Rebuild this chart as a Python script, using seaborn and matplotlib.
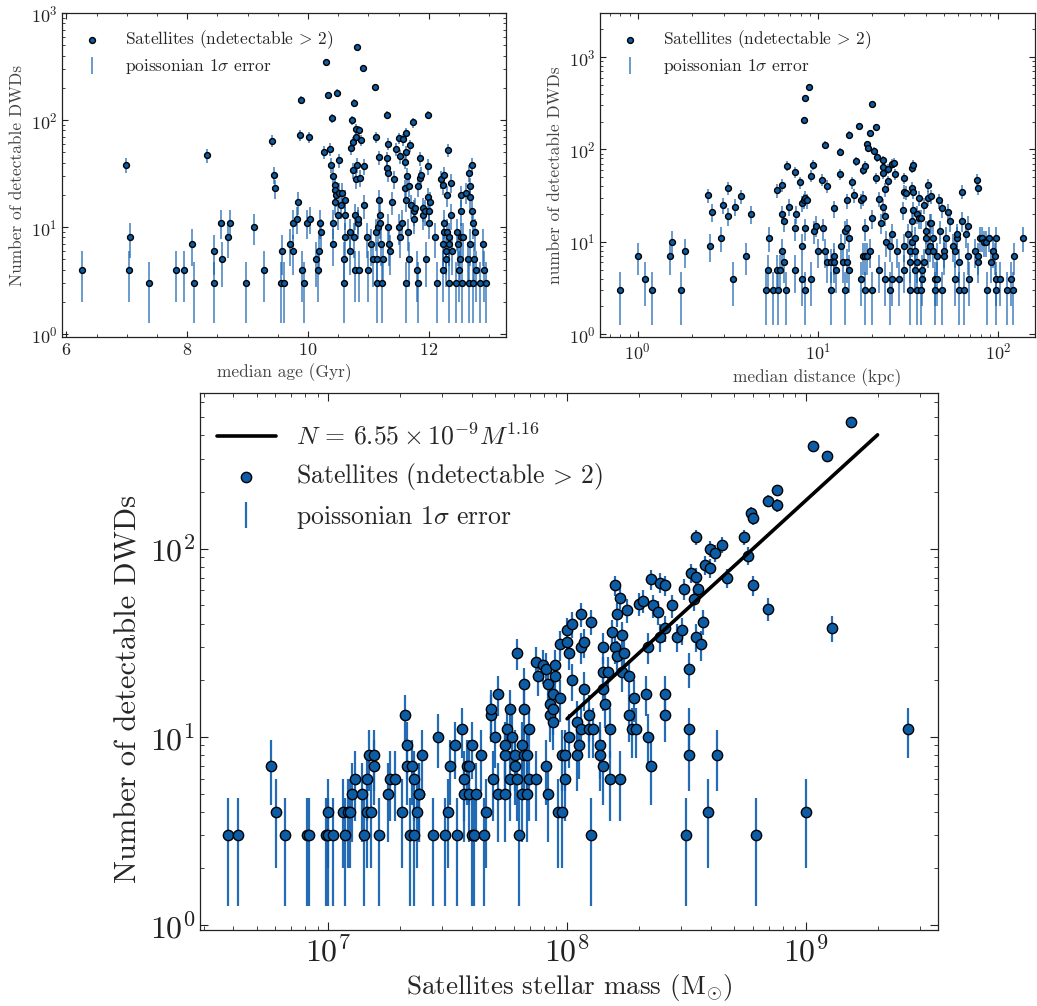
import numpy as np
import pandas as pd
import seaborn as sns
import matplotlib
matplotlib.use("Agg")
import matplotlib.pyplot as plt
from matplotlib.ticker import MultipleLocator, LogLocator, NullFormatter

# ---------------------------------------------------------------------------
# Satellite galaxies: number of detectable DWDs vs. median age (Gyr)
# ---------------------------------------------------------------------------
age_gyr = [6.25, 6.99, 7.05, 7.04, 7.36, 7.82, 7.94, 8.08, 8.11, 8.33, 8.44, 8.44,
           8.56, 8.58, 8.67, 8.71, 8.98, 9.11, 9.27, 9.40, 9.43, 9.46, 9.55, 9.57,
           9.61, 9.70, 9.75, 9.76, 9.82, 9.83, 9.86, 9.88, 9.90, 9.93, 9.99, 10.01,
           10.04, 10.14, 10.16, 10.18, 10.20, 10.21, 10.26, 10.30, 10.33, 10.36, 10.38, 10.40,
           10.41, 10.42, 10.42, 10.44, 10.44, 10.45, 10.46, 10.48, 10.49, 10.51, 10.52, 10.55,
           10.56, 10.59, 10.59, 10.61, 10.62, 10.62, 10.69, 10.70, 10.72, 10.73, 10.74, 10.75,
           10.77, 10.77, 10.78, 10.78, 10.79, 10.79, 10.80, 10.81, 10.81, 10.82, 10.83, 10.84,
           10.85, 10.86, 10.88, 10.91, 10.92, 10.93, 10.97, 10.99, 11.05, 11.07, 11.11, 11.12,
           11.12, 11.14, 11.15, 11.16, 11.18, 11.18, 11.19, 11.20, 11.21, 11.23, 11.25, 11.31,
           11.31, 11.31, 11.32, 11.32, 11.33, 11.34, 11.36, 11.39, 11.43, 11.46, 11.50, 11.51,
           11.52, 11.53, 11.55, 11.58, 11.60, 11.61, 11.62, 11.62, 11.62, 11.63, 11.64, 11.66,
           11.67, 11.68, 11.69, 11.71, 11.74, 11.75, 11.76, 11.77, 11.80, 11.82, 11.83, 11.85,
           11.86, 11.87, 11.90, 11.91, 11.93, 11.96, 11.98, 11.99, 11.99, 12.01, 12.01, 12.02,
           12.10, 12.14, 12.20, 12.23, 12.24, 12.24, 12.25, 12.25, 12.26, 12.28, 12.29, 12.30,
           12.31, 12.32, 12.33, 12.33, 12.34, 12.37, 12.37, 12.39, 12.45, 12.46, 12.48, 12.50,
           12.52, 12.53, 12.54, 12.54, 12.55, 12.56, 12.61, 12.65, 12.66, 12.67, 12.68, 12.69,
           12.69, 12.71, 12.72, 12.73, 12.74, 12.75, 12.77, 12.79, 12.85, 12.90, 12.91, 12.94]
n_by_age = [4, 38, 8, 4, 3, 4, 4, 7, 3, 47, 6, 3,
            11, 5, 8, 11, 3, 10, 4, 64, 31, 23, 3, 6,
            3, 7, 11, 6, 12, 17, 72, 155, 4, 3, 11, 69,
            12, 5, 4, 6, 11, 9, 50, 350, 170, 54, 38, 105,
            30, 11, 7, 25, 22, 17, 20, 180, 13, 21, 42, 16,
            21, 5, 3, 18, 8, 13, 9, 6, 55, 100, 62, 34,
            145, 8, 13, 4, 70, 28, 83, 38, 480, 11, 12, 4,
            80, 29, 65, 310, 37, 16, 8, 4, 7, 5, 205, 69,
            9, 3, 5, 10, 18, 45, 13, 11, 7, 3, 5, 112,
            44, 36, 10, 60, 32, 7, 6, 17, 28, 54, 68, 10,
            46, 8, 11, 66, 41, 23, 18, 75, 3, 50, 30, 9,
            5, 24, 58, 16, 95, 14, 12, 15, 4, 3, 24, 29,
            44, 31, 15, 13, 14, 5, 37, 19, 112, 11, 14, 17,
            8, 3, 28, 25, 4, 7, 31, 11, 9, 6, 5, 20,
            9, 52, 3, 8, 7, 26, 13, 6, 3, 9, 7, 4,
            5, 14, 8, 20, 3, 8, 21, 5, 3, 32, 24, 19,
            7, 38, 14, 11, 3, 5, 9, 4, 3, 7, 4, 3]

# ---------------------------------------------------------------------------
# Satellite galaxies: number of detectable DWDs vs. median distance (log10 kpc)
# ---------------------------------------------------------------------------
log_dist_kpc = [-0.10, 0.00, 0.04, 0.08, 0.18, 0.19, 0.24, 0.26, 0.39, 0.40, 0.41, 0.46,
                0.47, 0.50, 0.50, 0.53, 0.54, 0.57, 0.60, 0.63, 0.71, 0.72, 0.73, 0.75,
                0.77, 0.77, 0.78, 0.79, 0.80, 0.80, 0.80, 0.81, 0.81, 0.82, 0.83, 0.84,
                0.87, 0.87, 0.87, 0.88, 0.90, 0.91, 0.91, 0.91, 0.92, 0.92, 0.93, 0.93,
                0.93, 0.93, 0.94, 0.95, 0.96, 0.96, 0.97, 0.98, 0.99, 1.00, 1.02, 1.03,
                1.04, 1.04, 1.05, 1.05, 1.07, 1.07, 1.09, 1.09, 1.09, 1.10, 1.12, 1.12,
                1.13, 1.14, 1.15, 1.15, 1.16, 1.16, 1.16, 1.17, 1.17, 1.17, 1.19, 1.20,
                1.21, 1.23, 1.24, 1.24, 1.25, 1.25, 1.25, 1.26, 1.26, 1.26, 1.26, 1.27,
                1.27, 1.28, 1.29, 1.29, 1.30, 1.30, 1.30, 1.31, 1.32, 1.32, 1.33, 1.34,
                1.34, 1.35, 1.36, 1.36, 1.36, 1.36, 1.37, 1.37, 1.37, 1.38, 1.39, 1.39,
                1.40, 1.40, 1.41, 1.41, 1.41, 1.42, 1.43, 1.44, 1.45, 1.47, 1.48, 1.48,
                1.48, 1.48, 1.49, 1.50, 1.51, 1.51, 1.51, 1.52, 1.52, 1.52, 1.52, 1.53,
                1.53, 1.53, 1.54, 1.54, 1.54, 1.55, 1.55, 1.55, 1.56, 1.56, 1.57, 1.57,
                1.58, 1.58, 1.59, 1.59, 1.60, 1.60, 1.61, 1.61, 1.61, 1.62, 1.62, 1.63,
                1.63, 1.64, 1.64, 1.65, 1.65, 1.66, 1.66, 1.67, 1.68, 1.69, 1.69, 1.70,
                1.70, 1.71, 1.72, 1.73, 1.75, 1.76, 1.76, 1.77, 1.77, 1.78, 1.78, 1.80,
                1.80, 1.81, 1.82, 1.83, 1.83, 1.84, 1.87, 1.88, 1.89, 1.89, 1.89, 1.90,
                1.91, 1.92, 1.93, 1.94, 1.95, 1.96, 1.97, 1.98, 1.99, 1.99, 1.99, 2.01,
                2.05, 2.07, 2.08, 2.09, 2.14]
n_by_dist = [3, 7, 4, 3, 7, 10, 3, 8, 32, 9, 21, 11,
             25, 38, 19, 4, 24, 31, 7, 20, 3, 5, 11, 3,
             5, 36, 3, 5, 20, 41, 8, 17, 6, 3, 66, 24,
             57, 14, 5, 20, 44, 9, 26, 4, 210, 28, 360, 30,
             14, 3, 28, 480, 4, 52, 68, 13, 15, 8, 47, 14,
             112, 8, 40, 6, 6, 3, 7, 6, 23, 5, 94, 54,
             9, 6, 13, 3, 28, 14, 6, 11, 5, 145, 44, 32,
             75, 180, 28, 4, 30, 7, 60, 7, 14, 3, 66, 7,
             114, 104, 150, 8, 18, 310, 3, 96, 175, 49, 82, 29,
             5, 16, 65, 77, 55, 24, 19, 37, 4, 10, 45, 62,
             3, 9, 70, 4, 12, 72, 54, 8, 4, 22, 49, 35,
             9, 5, 34, 12, 8, 3, 6, 38, 10, 63, 17, 22,
             35, 68, 11, 5, 8, 3, 20, 6, 18, 30, 3, 18,
             5, 4, 6, 25, 11, 13, 41, 8, 30, 16, 9, 16,
             31, 8, 11, 4, 3, 7, 4, 28, 13, 3, 23, 8,
             7, 11, 21, 17, 9, 8, 4, 11, 12, 6, 3, 17,
             35, 3, 12, 15, 7, 4, 8, 47, 7, 38, 6, 11,
             11, 10, 10, 3, 11, 6, 8, 7, 4, 3, 11, 4,
             3, 4, 3, 7, 11]

# ---------------------------------------------------------------------------
# Satellite galaxies: number of detectable DWDs vs. stellar mass (log10 Msun)
# ---------------------------------------------------------------------------
log_mass_msun = [6.58, 6.62, 6.76, 6.78, 6.82, 6.91, 6.92, 6.99, 7.00, 7.00, 7.02, 7.06,
                 7.07, 7.08, 7.09, 7.10, 7.11, 7.14, 7.15, 7.16, 7.16, 7.17, 7.18, 7.19,
                 7.19, 7.21, 7.25, 7.26, 7.28, 7.31, 7.32, 7.33, 7.33, 7.34, 7.35, 7.36,
                 7.36, 7.37, 7.38, 7.38, 7.39, 7.44, 7.46, 7.49, 7.50, 7.51, 7.53, 7.54,
                 7.56, 7.57, 7.57, 7.58, 7.59, 7.59, 7.60, 7.60, 7.61, 7.62, 7.64, 7.65,
                 7.66, 7.68, 7.68, 7.69, 7.70, 7.71, 7.71, 7.74, 7.74, 7.74, 7.75, 7.76,
                 7.76, 7.77, 7.78, 7.78, 7.79, 7.79, 7.80, 7.81, 7.81, 7.82, 7.82, 7.82,
                 7.83, 7.83, 7.84, 7.84, 7.87, 7.87, 7.88, 7.90, 7.91, 7.91, 7.92, 7.92,
                 7.93, 7.93, 7.94, 7.94, 7.94, 7.95, 7.95, 7.96, 7.97, 7.97, 7.98, 7.98,
                 7.99, 7.99, 8.00, 8.00, 8.01, 8.01, 8.02, 8.02, 8.04, 8.04, 8.05, 8.06,
                 8.06, 8.06, 8.07, 8.07, 8.09, 8.09, 8.10, 8.10, 8.11, 8.14, 8.14, 8.15,
                 8.15, 8.15, 8.15, 8.16, 8.17, 8.18, 8.18, 8.19, 8.20, 8.20, 8.21, 8.21,
                 8.22, 8.22, 8.23, 8.23, 8.24, 8.25, 8.26, 8.26, 8.27, 8.28, 8.29, 8.30,
                 8.32, 8.33, 8.34, 8.34, 8.35, 8.35, 8.36, 8.38, 8.39, 8.39, 8.41, 8.41,
                 8.41, 8.41, 8.44, 8.46, 8.48, 8.49, 8.51, 8.51, 8.51, 8.50, 8.52, 8.53,
                 8.54, 8.54, 8.55, 8.56, 8.57, 8.58, 8.59, 8.60, 8.60, 8.62, 8.54, 8.63,
                 8.65, 8.67, 8.74, 8.76, 8.77, 8.78, 8.78, 8.79, 8.84, 8.84, 8.88, 8.88,
                 9.00, 9.03, 9.09, 9.11, 9.19, 9.43]
n_by_mass = [3, 3, 7, 4, 3, 3, 3, 3, 4, 3, 3, 4,
             3, 4, 4, 5, 6, 5, 3, 6, 4, 8, 4, 8,
             7, 3, 5, 6, 6, 4, 13, 9, 7, 3, 7, 6,
             3, 4, 5, 5, 8, 3, 10, 3, 4, 7, 9, 3,
             11, 5, 6, 7, 5, 7, 3, 9, 3, 5, 8, 3,
             4, 13, 14, 6, 10, 17, 5, 8, 9, 5, 11, 6,
             14, 10, 8, 7, 6, 28, 3, 5, 9, 14, 8, 19,
             5, 8, 6, 11, 6, 25, 21, 24, 7, 23, 5, 19,
             13, 15, 17, 12, 14, 21, 24, 4, 31, 16, 4, 8,
             6, 8, 37, 32, 28, 10, 40, 20, 12, 8, 9, 11,
             30, 45, 18, 32, 13, 11, 3, 41, 11, 9, 8, 18,
             7, 22, 30, 15, 22, 11, 6, 36, 30, 64, 27, 45,
             55, 6, 22, 35, 28, 47, 13, 21, 11, 16, 11, 51,
             53, 17, 30, 10, 7, 69, 50, 46, 66, 34, 38, 17,
             13, 64, 50, 34, 37, 61, 23, 11, 8, 3, 74, 54,
             34, 71, 61, 31, 41, 82, 4, 100, 79, 95, 115, 8,
             105, 70, 115, 92, 155, 64, 145, 3, 48, 180, 170, 205,
             4, 350, 310, 38, 470, 11]

# Power-law fit N = A * M^k over the massive satellites
fit_amp = 6.55e-9
fit_slope = 1.16
fit_mass_range = [1e8, 2e9]

MARKER_BLUE = "#0C5DA5"
BAR_BLUE = "#1260B0"

sns.set_theme(style="ticks")
plt.rcParams.update({
    "font.family": ["cmr10", "DejaVu Serif"],
    "mathtext.fontset": "cm",
    "axes.formatter.use_mathtext": True,
    "axes.unicode_minus": False,
    "axes.edgecolor": "#222222",
    "axes.linewidth": 0.9,
    "xtick.direction": "in",
    "ytick.direction": "in",
    "xtick.top": True,
    "ytick.right": True,
    "xtick.minor.visible": True,
    "ytick.minor.visible": True,
    "xtick.color": "#222222",
    "ytick.color": "#222222",
})

df_age = pd.DataFrame({"x": age_gyr, "n": n_by_age})
df_dist = pd.DataFrame({"x": 10 ** np.array(log_dist_kpc), "n": n_by_dist})
df_mass = pd.DataFrame({"x": 10 ** np.array(log_mass_msun), "n": n_by_mass})
for d in (df_age, df_dist, df_mass):
    d["err"] = np.sqrt(d["n"])

fig = plt.figure(figsize=(10.37, 10.06), dpi=100)
ax_age = fig.add_axes([0.060, 0.665, 0.428, 0.322])
ax_dist = fig.add_axes([0.579, 0.665, 0.419, 0.322])
ax_mass = fig.add_axes([0.193, 0.0755, 0.712, 0.5335])

sat_label = r"Satellites (ndetectable$\,>\,$2)"
err_label = r"poissonian 1$\sigma$ error"


def draw_panel(ax, d, msize, ew, alpha):
    ax.errorbar(d["x"], d["n"], yerr=d["err"], fmt="none", ecolor=BAR_BLUE,
                elinewidth=ew, alpha=alpha, zorder=1, label=err_label)
    sns.scatterplot(data=d, x="x", y="n", ax=ax, color=MARKER_BLUE,
                    edgecolor="black", linewidth=1.0, s=msize, zorder=3,
                    label=sat_label, legend=False)
    ax.set_yscale("log")


def style_ticks(ax, major_len, minor_len, labelsize):
    ax.tick_params(which="major", length=major_len, width=0.8, labelsize=labelsize,
                   top=True, right=True, direction="in")
    ax.tick_params(which="minor", length=minor_len, width=0.6,
                   top=True, right=True, direction="in")


# Age panel
draw_panel(ax_age, df_age, 18, 1.1, 0.8)
ax_age.set_xlim(5.93, 13.28)
ax_age.set_ylim(0.94, 1000)
ax_age.xaxis.set_major_locator(MultipleLocator(2))
ax_age.xaxis.set_minor_locator(MultipleLocator(0.5))
ax_age.set_xlabel("median age (Gyr)", fontsize=12.5, color="#444444")
ax_age.set_ylabel("Number of detectable DWDs", fontsize=12.5, color="#444444")
style_ticks(ax_age, 4, 2, 13)

# Distance panel
draw_panel(ax_dist, df_dist, 18, 1.1, 0.8)
ax_dist.set_xscale("log")
ax_dist.set_xlim(0.62, 160)
ax_dist.set_ylim(0.93, 3000)
ax_dist.set_xlabel("median distance (kpc)", fontsize=12.5, color="#444444")
ax_dist.set_ylabel("number of detectable DWDs", fontsize=12.5, color="#444444")
style_ticks(ax_dist, 4, 2, 13)

for ax in (ax_age, ax_dist):
    h, l = ax.get_legend_handles_labels()
    order = [l.index(sat_label), l.index(err_label)]
    ax.legend([h[i] for i in order], [l[i] for i in order], loc="upper left",
              frameon=False, fontsize=12.5, handlelength=1.6, handletextpad=1.1,
              borderaxespad=0.5, labelspacing=0.35)

# Stellar-mass panel with power-law fit
fit_m = np.array(fit_mass_range)
fit_label = r"$N\,=\,6.55 \times 10^{-9} M^{1.16}$"
ax_mass.plot(fit_m, fit_amp * fit_m ** fit_slope, color="black", lw=2.6,
             zorder=4, label=fit_label)
draw_panel(ax_mass, df_mass, 55, 1.6, 0.92)
ax_mass.set_xscale("log")
ax_mass.set_xlim(2.9e6, 3.6e9)
ax_mass.set_ylim(0.94, 670)
ax_mass.set_xlabel(r"Satellites stellar mass (M$_{\odot}$)", fontsize=19.5)
ax_mass.set_ylabel("Number of detectable DWDs", fontsize=22)
ax_mass.yaxis.set_label_coords(-0.078, 0.45)
style_ticks(ax_mass, 6, 3, 23)
h, l = ax_mass.get_legend_handles_labels()
order = [l.index(fit_label), l.index(sat_label), l.index(err_label)]
ax_mass.legend([h[i] for i in order], [l[i] for i in order], loc="upper left",
               bbox_to_anchor=(0.0, 0.975), frameon=False, fontsize=18.5,
               handlelength=2.3, handletextpad=0.8, borderaxespad=0.25,
               labelspacing=0.45)

for ax in (ax_age, ax_dist, ax_mass):
    ax.yaxis.set_minor_locator(LogLocator(base=10, subs=np.arange(2, 10)))
    ax.yaxis.set_minor_formatter(NullFormatter())
ax_dist.xaxis.set_minor_formatter(NullFormatter())
ax_mass.xaxis.set_minor_formatter(NullFormatter())

fig.savefig("out.png", dpi=100)
